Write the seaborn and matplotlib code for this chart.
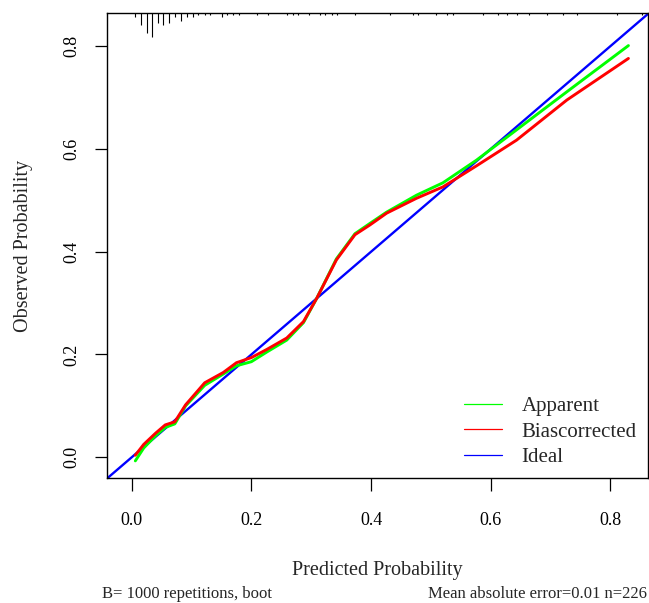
import numpy as np
import pandas as pd
import matplotlib
matplotlib.use("Agg")
import matplotlib.pyplot as plt
from matplotlib.lines import Line2D
import seaborn as sns

# calibration curves (predicted -> observed)
pred = [0.006, 0.02, 0.04, 0.056, 0.072, 0.09, 0.122, 0.153, 0.175, 0.2, 0.226,
        0.259, 0.287, 0.309, 0.342, 0.373, 0.398, 0.426, 0.476, 0.52, 0.576,
        0.643, 0.727, 0.83]
apparent = [-0.007, 0.018, 0.042, 0.058, 0.065, 0.10, 0.14, 0.162, 0.178, 0.186,
            0.205, 0.228, 0.262, 0.309, 0.386, 0.435, 0.455, 0.477, 0.51, 0.534,
            0.578, 0.637, 0.711, 0.801]
biascorr = [0.004, 0.025, 0.047, 0.063, 0.069, 0.102, 0.145, 0.165, 0.184, 0.194,
            0.21, 0.232, 0.264, 0.309, 0.384, 0.433, 0.452, 0.475, 0.504, 0.526,
            0.567, 0.617, 0.695, 0.776]

# rug of predicted probabilities along the top (position, frequency)
rug_x = [0.0055, 0.015, 0.025, 0.0344, 0.0434, 0.0528, 0.0628, 0.0723, 0.0824,
         0.0919, 0.1019, 0.1113, 0.1225, 0.1308, 0.1504, 0.1597, 0.1698, 0.1793,
         0.2089, 0.2282, 0.259, 0.27, 0.2784, 0.2967, 0.3146, 0.323, 0.3342,
         0.3435, 0.3731, 0.4316, 0.4705, 0.4789, 0.5084, 0.5273, 0.5373, 0.5865,
         0.612, 0.6266, 0.6443, 0.6643, 0.6934, 0.7211, 0.7435, 0.8104, 0.852]
rug_n = [2, 6, 10, 12, 5, 6, 5, 2, 4, 2, 2, 1, 1, 1, 2, 1, 1, 1,
         1, 1, 1, 1, 1, 1, 1, 1, 1,
         1, 1, 1, 1, 1, 1, 1, 1, 1,
         1, 1, 1, 1, 1, 1, 1, 1, 1]

ticks = [0.0, 0.2, 0.4, 0.6, 0.8]
tick_labels = ["0.0", "0.2", "0.4", "0.6", "0.8"]
series_names = ["Apparent", "Biascorrected", "Ideal"]
footer_left = "B= 1000 repetitions, boot"
footer_right = "Mean absolute error=0.01 n=226"

sns.set_style("ticks")
plt.rcParams["font.family"] = ["Liberation Serif", "DejaVu Serif"]

fig = plt.figure(figsize=(6.49, 6.03), dpi=100)
ax = fig.add_axes([107 / 649, 125 / 603, 541 / 649, 465 / 603])

df = pd.DataFrame({"pred": pred, "apparent": apparent, "biascorr": biascorr})

ax.axline((0, 0), slope=1, color="#0000FF", lw=1.7, zorder=2)
sns.lineplot(data=df, x="pred", y="apparent", color="#00FF00", lw=2.1,
             estimator=None, sort=False, ax=ax, zorder=3)
sns.lineplot(data=df, x="pred", y="biascorr", color="#FF0000", lw=2.1,
             estimator=None, sort=False, ax=ax, zorder=4)

ax.set_xlim(-0.0413, 0.8627)
ax.set_ylim(-0.0403, 0.8644)

# rug hanging from the top border
unit = 2.0 / 465
ax.vlines(rug_x, [1 - n * unit for n in rug_n], 1,
          transform=ax.get_xaxis_transform(), color="black", lw=0.8, zorder=5)

ax.set_xticks(ticks)
ax.set_xticklabels(tick_labels)
ax.set_yticks(ticks)
ax.set_yticklabels(tick_labels, rotation=90, va="center")
ax.tick_params(axis="both", length=9, width=0.9, color="black",
               labelsize=13, labelcolor="black")
ax.tick_params(axis="x", pad=15.5)
ax.tick_params(axis="y", pad=10)
for s in ax.spines.values():
    s.set_color("black")
    s.set_linewidth(1.0)

ax.set_xlabel("Predicted Probability", fontsize=14.5)
ax.set_ylabel("Observed Probability", fontsize=14.5)
ax.xaxis.set_label_coords(0.5, -0.178)
ax.yaxis.set_label_coords(-0.136, 0.5)

handles = [Line2D([], [], color=c, lw=0.9) for c in ["#00FF00", "#FF0000", "#0000FF"]]
ax.legend(handles, series_names, loc="upper left", bbox_to_anchor=(0.66, 0.175),
          frameon=False, fontsize=15, handlelength=1.8, handletextpad=0.95,
          labelspacing=0.28, borderpad=0, borderaxespad=0)

fig.text(102 / 649, 1 - 598 / 603, footer_left, fontsize=12, ha="left", va="baseline")
fig.text(647 / 649, 1 - 598 / 603, footer_right, fontsize=12, ha="right", va="baseline")

fig.savefig("out.png", dpi=100)
